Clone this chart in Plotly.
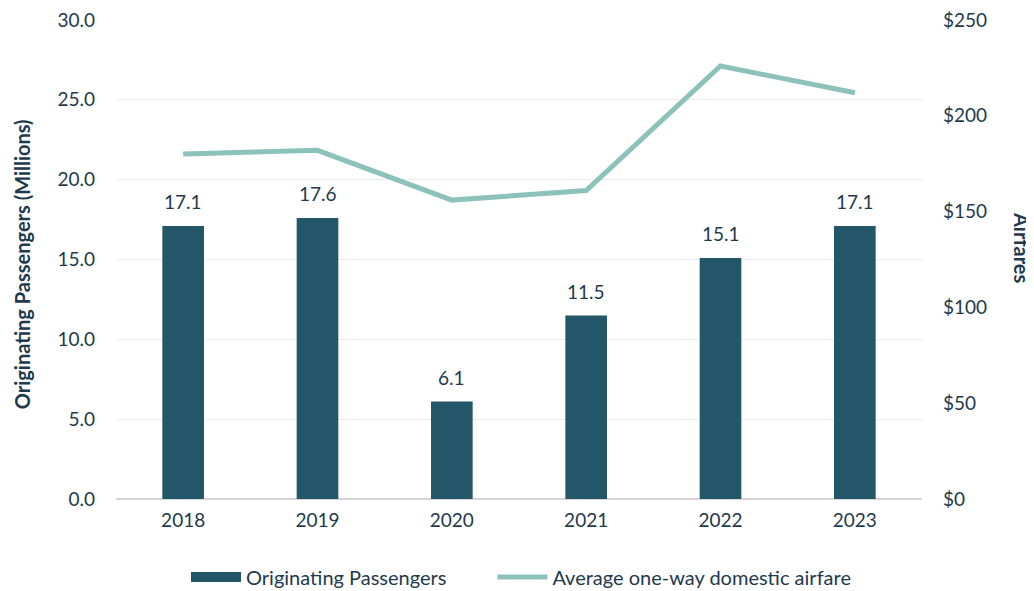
import plotly.graph_objects as go

years = ["2018", "2019", "2020", "2021", "2022", "2023"]
passengers = [17.1, 17.6, 6.1, 11.5, 15.1, 17.1]
airfare = [180, 182, 156, 161, 226, 212]
left_ticks = [0, 5, 10, 15, 20, 25, 30]
right_ticks = [0, 50, 100, 150, 200, 250]

TEXT = "#1E3A4C"
BAR = "#235668"
LINE = "#8DC2BC"
FONT = "Lato"

# page body has an 8px default margin; size the figure so the plot area
# lands at the same window pixels as the reference
W, H = 1026, 583
L, T = 108, 12
PW, PH = 806, 479

fig = go.Figure()
fig.add_trace(go.Bar(
    x=years, y=passengers, name="Originating Passengers",
    marker=dict(color=BAR, line=dict(width=0)),
    width=0.31, showlegend=False,
))
# legend proxy for the bar series (wide rectangle swatch); trailing
# non-breaking spaces widen the gap to the next legend entry
fig.add_trace(go.Scatter(
    x=[years[0]], y=[None], name="Originating Passengers" + "\u00a0" * 8,
    mode="lines", line=dict(color=BAR, width=12), showlegend=True,
    hoverinfo="skip",
))
fig.add_trace(go.Scatter(
    x=years, y=airfare, name="Average one-way domestic airfare",
    mode="lines", line=dict(color=LINE, width=5), yaxis="y2",
))

# value labels above bars (x given as category index)
annotations = [
    dict(x=i, y=v, xref="x", yref="y", text=f"{v:.1f}", showarrow=False,
         yanchor="middle", yshift=24, font=dict(size=19, color=TEXT))
    for i, v in enumerate(passengers)
]
annotations += [
    dict(text="<b>Originating Passengers (Millions)</b>", textangle=-90,
         xref="paper", yref="paper", x=(22 - 116) / PW, y=0.49,
         xanchor="center", yanchor="middle", showarrow=False,
         font=dict(size=20, color=TEXT)),
    dict(text="<b>Airfares</b>", textangle=90,
         xref="paper", yref="paper", x=1 + (1022 - 922) / PW, y=0.524,
         xanchor="center", yanchor="middle", showarrow=False,
         font=dict(size=20, color=TEXT)),
]

fig.update_layout(
    width=W, height=H,
    margin=dict(l=L, r=W - L - PW, t=T, b=H - T - PH, autoexpand=False),
    paper_bgcolor="white", plot_bgcolor="white",
    font=dict(family=FONT, size=19, color=TEXT),
    showlegend=True,
    legend=dict(orientation="h", x=(186 - 116) / PW, xanchor="left",
                y=(499 - 577) / PH, yanchor="middle",
                font=dict(size=20, color=TEXT), itemwidth=50,
                traceorder="normal", bgcolor="rgba(0,0,0,0)"),
    xaxis=dict(type="category", categoryarray=years, categoryorder="array",
               range=[-0.5, len(years) - 0.5],
               showgrid=False, ticks="", tickfont=dict(size=19),
               showline=False, ticklabelstandoff=8),
    yaxis=dict(range=[0, 30.0001], tickvals=left_ticks, tickformat=".1f",
               showgrid=True, gridcolor="#EBEBEB", gridwidth=1,
               zeroline=True, zerolinecolor="#D6D6D6", zerolinewidth=2,
               ticks="", ticklabelstandoff=20, tickfont=dict(size=19),
               ticklabeloverflow="allow"),
    yaxis2=dict(range=[0, 250.001], tickvals=right_ticks,
                ticktext=["$" + str(t) for t in right_ticks],
                overlaying="y", side="right", showgrid=False, zeroline=False,
                ticks="", ticklabelstandoff=20, tickfont=dict(size=19),
                ticklabeloverflow="allow"),
    bargap=0.69,
    annotations=annotations,
)

fig.write_html("out.html")
